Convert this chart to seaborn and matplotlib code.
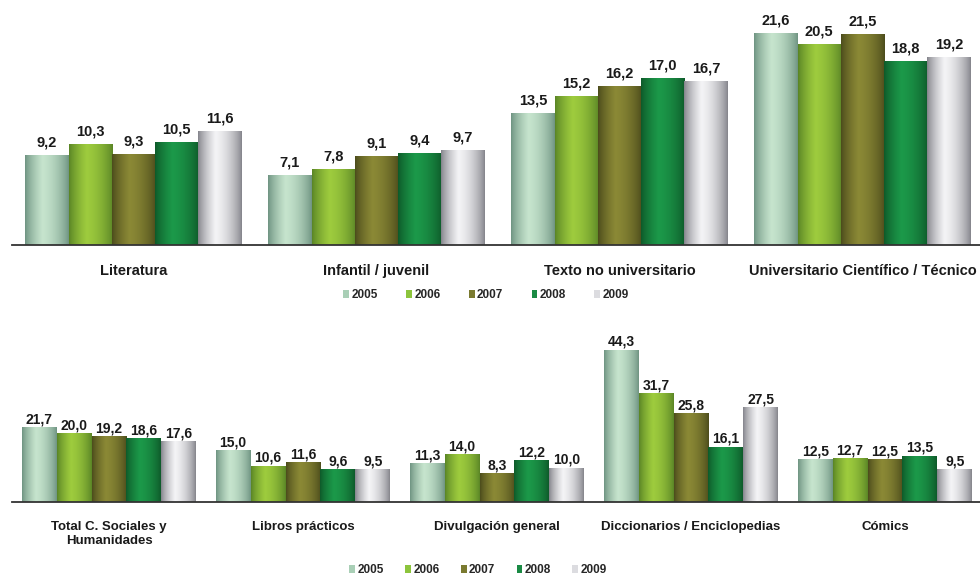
import numpy as np
import pandas as pd
import matplotlib
matplotlib.use("Agg")
import matplotlib.pyplot as plt
from matplotlib.patches import Patch
from matplotlib.colors import to_rgb
import seaborn as sns

years = ["2005", "2006", "2007", "2008", "2009"]

top_categories = ["Literatura", "Infantil / juvenil", "Texto no universitario",
                  "Universitario Científico / Técnico"]
top_2005 = [9.2, 7.1, 13.5, 21.6]
top_2006 = [10.3, 7.8, 15.2, 20.5]
top_2007 = [9.3, 9.1, 16.2, 21.5]
top_2008 = [10.5, 9.4, 17.0, 18.8]
top_2009 = [11.6, 9.7, 16.7, 19.2]

bottom_categories = ["Total C. Sociales y\nHumanidades", "Libros prácticos",
                     "Divulgación general", "Diccionarios / Enciclopedias", "Cómics"]
bot_2005 = [21.7, 15.0, 11.3, 44.3, 12.5]
bot_2006 = [20.0, 10.6, 14.0, 31.7, 12.7]
bot_2007 = [19.2, 11.6, 8.3, 25.8, 12.5]
bot_2008 = [18.6, 9.6, 12.2, 16.1, 13.5]
bot_2009 = [17.6, 9.5, 10.0, 27.5, 9.5]

center_colors = ["#c8e6cf", "#9fcd3e", "#8c8a36", "#1c9a4a", "#f6f6f8"]
edge_colors = ["#6f9482", "#5a8526", "#4c4c1c", "#0e5a2a", "#85858c"]
legend_colors = ["#a9cfb6", "#8cc43c", "#7a7a30", "#1a8a44", "#dcdce0"]

sns.set_style("white")
plt.rcParams['font.family'] = ['Liberation Sans', 'DejaVu Sans']


def make_df(categories, series):
    rows = []
    for y, vals in zip(years, series):
        for c, v in zip(categories, vals):
            rows.append({"cat": c, "year": y, "val": v})
    return pd.DataFrame(rows)


def fmt(v):
    return f"{v:.1f}".replace(".", ",")


def gradient_bars(ax):
    n = 64
    t = np.linspace(0, 1, n)
    prof = np.sin(np.pi * t) ** 0.7
    shift = np.interp(t, [0, 0.4, 1], [0, 1, 0])
    f = 0.5 * prof + 0.5 * shift
    for ci, cont in enumerate(ax.containers):
        c0 = np.array(to_rgb(edge_colors[ci]))
        c1 = np.array(to_rgb(center_colors[ci]))
        img = (c0[None, :] + (c1 - c0)[None, :] * f[:, None])[None, :, :]
        for p in cont.patches:
            x, w, h = p.get_x(), p.get_width(), p.get_height()
            p.set_facecolor("none")
            p.set_edgecolor("none")
            im = ax.imshow(img, extent=[x, x + w, 0, h], aspect="auto",
                           interpolation="bilinear", zorder=2)
            im.set_clip_path(p)


def draw_panel(ax, categories, series, ylim, width, vsize, pad, lsize, lab_pad):
    df = make_df(categories, series)
    sns.barplot(data=df, x="cat", y="val", hue="year", palette=legend_colors,
                width=width, dodge=True, ax=ax, legend=False, errorbar=None,
                saturation=1)
    ax.set_ylim(*ylim)
    ax.set_xlim(-0.5, len(categories) - 0.5)
    for ci, cont in enumerate(ax.containers):
        ax.bar_label(cont, labels=[fmt(v) for v in series[ci]], padding=pad,
                     fontsize=vsize, fontweight="bold", color="#1a1a1a")
    gradient_bars(ax)
    ax.set_xlim(-0.5, len(categories) - 0.5)
    ax.set_ylim(*ylim)
    for s in ["top", "right", "left"]:
        ax.spines[s].set_visible(False)
    ax.spines["bottom"].set_color("#333333")
    ax.spines["bottom"].set_linewidth(1.3)
    ax.set_yticks([])
    ax.set_xlabel("")
    ax.set_ylabel("")
    ax.set_xticks(range(len(categories)))
    ax.set_xticklabels(categories, fontsize=lsize, fontweight="bold", color="#1a1a1a",
                       linespacing=1.2)
    ax.tick_params(axis="x", which="major", length=0, pad=lab_pad)
    ax.set_xticks(np.arange(-0.5, len(categories), 1.0), minor=True)
    ax.tick_params(axis="x", which="minor", length=4, width=1.3, color="#333333",
                   direction="out")


fig = plt.figure(figsize=(9.8, 5.76), dpi=100)

ax1 = fig.add_axes([12 / 980, 331 / 576, 972 / 980, 245 / 576])
draw_panel(ax1, top_categories, [top_2005, top_2006, top_2007, top_2008, top_2009],
           (0, 25), 0.89, 10.5, 4, 10.5, 14)

ax2 = fig.add_axes([12 / 980, 74 / 576, 970 / 980, 172 / 576])
draw_panel(ax2, bottom_categories, [bot_2005, bot_2006, bot_2007, bot_2008, bot_2009],
           (0, 50), 0.9, 10, 0.5, 9.5, 14)

handles = [Patch(facecolor=c, edgecolor="none", label=y) for c, y in zip(legend_colors, years)]
fig.legend(handles=handles, loc="center", bbox_to_anchor=(486 / 980, 1 - 295 / 576),
           ncol=5, frameon=False, handlelength=0.5, handleheight=0.6,
           handletextpad=0.2, columnspacing=2.4,
           prop={"size": 8.5, "weight": "bold"})
fig.legend(handles=handles, loc="center", bbox_to_anchor=(478 / 980, 1 - 570 / 576),
           ncol=5, frameon=False, handlelength=0.5, handleheight=0.6,
           handletextpad=0.2, columnspacing=1.8,
           prop={"size": 8.5, "weight": "bold"})

fig.savefig("out.png", dpi=100)
